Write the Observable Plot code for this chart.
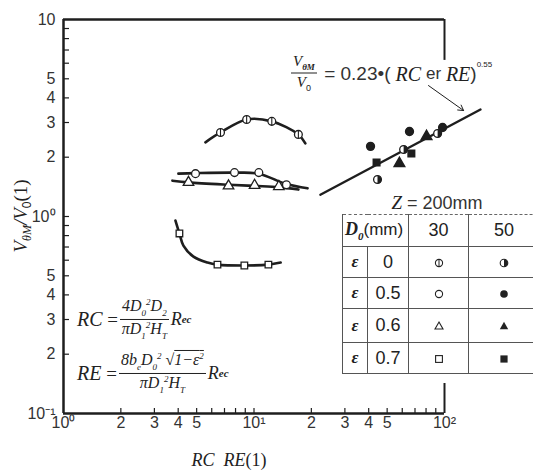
<!DOCTYPE html>
<html><head><meta charset="utf-8">
<script src="https://cdn.jsdelivr.net/npm/d3@7"></script>
<script src="https://cdn.jsdelivr.net/npm/@observablehq/plot@0.6"></script>
<style>
html,body{margin:0;padding:0;background:#fff;overflow:hidden;}
#wrap{position:relative;width:533px;height:474px;overflow:hidden;background:#fff;}
#wrap svg.plot{position:absolute;left:0;top:0;}
.ov{position:absolute;white-space:nowrap;color:#222;line-height:1;}
.it{font-family:"Liberation Serif","DejaVu Serif",serif;font-style:italic;}
.sans{font-family:"Liberation Sans",Arial,sans-serif;}
.frac{display:inline-flex;flex-direction:column;align-items:center;vertical-align:middle;margin:0 2px;}
.frac .num{border-bottom:1px solid #222;padding:0 2px 1px 2px;}
.frac .den{padding-top:1px;}
.row{display:flex;align-items:center;}
table.leg{position:absolute;left:342px;top:214px;width:236px;border-collapse:collapse;table-layout:fixed;color:#222;
  font-family:"Liberation Sans",Arial,sans-serif;font-size:18px;}
table.leg td{border:1px solid #555;text-align:center;padding:0;}
table.leg tr td{border-top:1px dashed #666;}
</style>
</head><body>
<div id="wrap"></div>
<script>
// ---- axis ticks ----
const xTickVals = [1, 2, 3, 4, 5, 7, 10, 20, 30, 40, 50, 70, 100];
const xTickLabels = ["10⁰", "2", "3", "4", "5", "7", "10¹", "2", "3", "4", "5", "7", "10²"];
const yTickVals = [0.1, 0.2, 0.3, 0.4, 0.5, 0.7, 1, 2, 3, 4, 5, 7, 10];
const yTickLabels = ["10⁻¹", "2", "3", "4", "5", "7", "10⁰", "2", "3", "4", "5", "7", "10"];
const xMinor = [2, 3, 4, 5, 6, 7, 8, 9, 10, 20, 30, 40, 50, 60, 70, 80, 90];
const yMinor = [0.2, 0.3, 0.4, 0.5, 0.6, 0.7, 0.8, 0.9, 1, 2, 3, 4, 5, 6, 7, 8, 9];

// ---- D0 = 30 mm series (open markers) and their hand-drawn curves ----
const e0_30_x = [6.67, 9.15, 12.4, 17.1];
const e0_30_y = [2.67, 3.11, 3.04, 2.61];
const e0_curve_x = [5.56, 6.67, 9.15, 12.4, 17.1, 18.6];
const e0_curve_y = [2.38, 2.67, 3.11, 3.04, 2.61, 2.35];

const e05_30_x = [4.93, 7.90, 10.6, 14.8];
const e05_30_y = [1.65, 1.67, 1.67, 1.45];
const e05_curve_x = [4.01, 4.93, 7.90, 10.6, 14.8, 19.1];
const e05_curve_y = [1.65, 1.66, 1.67, 1.65, 1.46, 1.39];

const e06_30_x = [4.53, 7.35, 10.07, 13.5];
const e06_30_y = [1.49, 1.43, 1.44, 1.42];
const e06_curve_x = [3.73, 4.53, 7.35, 10.07, 13.5, 17.1];
const e06_curve_y = [1.52, 1.49, 1.45, 1.43, 1.41, 1.37];

const e07_30_x = [4.06, 6.43, 8.9, 11.9];
const e07_30_y = [0.82, 0.57, 0.564, 0.57];
const e07_curve_x = [3.87, 4.06, 4.26, 4.81, 5.70, 6.43, 8.9, 11.9, 13.8];
const e07_curve_y = [0.954, 0.82, 0.712, 0.626, 0.584, 0.57, 0.564, 0.57, 0.584];

// ---- D0 = 50 mm series (filled markers) ----
const e0_50_x = [44.5, 61, 92];
const e0_50_y = [1.54, 2.19, 2.64];
const e05_50_x = [40.9, 65.5, 97.7];
const e05_50_y = [2.27, 2.70, 2.83];
const e06_50_x = [58, 80.5];
const e06_50_y = [1.86, 2.55];
const e07_50_x = [44, 67];
const e07_50_y = [1.88, 2.09];

const fit_x = [22.3, 154.5];
const fit_y = [1.29, 3.49];
const arrowFrom = [82.4, 4.62];
const arrowTo = [126, 3.45];

// frame pieces
const rightTop = [10, 6.2];
const rightBottom = [0.1, 0.142];

const pts = (xs, ys) => xs.map((x, i) => ({x, y: ys[i]}));

const barSym = {draw(ctx, size) {const r = Math.sqrt(size / Math.PI); ctx.moveTo(0, -r); ctx.lineTo(0, r);}};
const halfSym = {draw(ctx, size) {const r = Math.sqrt(size / Math.PI); ctx.moveTo(0, -r); ctx.arc(0, 0, r, -Math.PI / 2, Math.PI / 2); ctx.closePath();}};

const ink = "#1e1e1e";
const curveOpts = {x: "x", y: "y", curve: "catmull-rom", stroke: ink, strokeWidth: 2.6};
const R = 3.9;

const chart = Plot.plot({
  width: 533, height: 474,
  marginLeft: 63, marginRight: 89, marginTop: 19, marginBottom: 61,
  style: {fontFamily: "'Liberation Sans', Arial, sans-serif", fontSize: "16px", color: "#333", background: "transparent", overflow: "visible"},
  x: {type: "log", domain: [1, 100]},
  y: {type: "log", domain: [0.1, 10]},
  marks: [
    Plot.tickX(xMinor, {x: d => d, insetTop: 389, stroke: ink, strokeWidth: 1.2}),
    Plot.tickY(yMinor, {y: d => d, insetRight: 375, stroke: ink, strokeWidth: 1.2}),
    Plot.axisX({ticks: xTickVals, tickFormat: d => xTickLabels[xTickVals.indexOf(d)], tickSize: 0, tickPadding: 3, fill: "#333", fontSize: 16, label: null}),
    Plot.axisY({ticks: yTickVals, tickFormat: d => yTickLabels[yTickVals.indexOf(d)], tickSize: 0, tickPadding: 8, fill: "#333", fontSize: 16, label: null}),
    Plot.ruleY([10], {stroke: ink, strokeWidth: 2.5}),
    Plot.ruleY([0.1], {stroke: ink, strokeWidth: 2.5}),
    Plot.ruleX([1], {stroke: ink, strokeWidth: 2.5}),
    Plot.ruleX([100], {y1: rightTop[0], y2: rightTop[1], stroke: ink, strokeWidth: 2}),
    Plot.ruleX([100], {y1: rightBottom[0], y2: rightBottom[1], stroke: ink, strokeWidth: 2}),
    Plot.line(pts(e0_curve_x, e0_curve_y), curveOpts),
    Plot.line(pts(e05_curve_x, e05_curve_y), curveOpts),
    Plot.line(pts(e06_curve_x, e06_curve_y), curveOpts),
    Plot.line(pts(e07_curve_x, e07_curve_y), curveOpts),
    Plot.line(pts(fit_x, fit_y), {x: "x", y: "y", stroke: ink, strokeWidth: 2.4}),
    Plot.arrow([0], {x1: () => arrowFrom[0], y1: () => arrowFrom[1], x2: () => arrowTo[0], y2: () => arrowTo[1], stroke: ink, strokeWidth: 1, headLength: 9}),
    // D0 = 30 open markers
    Plot.dot(pts(e0_30_x, e0_30_y), {x: "x", y: "y", r: R, symbol: "circle", fill: "white", stroke: ink, strokeWidth: 1.3}),
    Plot.dot(pts(e0_30_x, e0_30_y), {x: "x", y: "y", r: R, symbol: barSym, fill: "none", stroke: ink, strokeWidth: 1.1}),
    Plot.dot(pts(e05_30_x, e05_30_y), {x: "x", y: "y", r: R, symbol: "circle", fill: "white", stroke: ink, strokeWidth: 1.3}),
    Plot.dot(pts(e06_30_x, e06_30_y), {x: "x", y: "y", r: R, symbol: "triangle", fill: "white", stroke: ink, strokeWidth: 1.3}),
    Plot.dot(pts(e07_30_x, e07_30_y), {x: "x", y: "y", r: R * 0.95, symbol: "square", fill: "white", stroke: ink, strokeWidth: 1.3}),
    // D0 = 50 filled markers
    Plot.dot(pts(e0_50_x, e0_50_y), {x: "x", y: "y", r: R, symbol: "circle", fill: "white", stroke: ink, strokeWidth: 1.3}),
    Plot.dot(pts(e0_50_x, e0_50_y), {x: "x", y: "y", r: R, symbol: halfSym, fill: ink, stroke: "none"}),
    Plot.dot(pts(e05_50_x, e05_50_y), {x: "x", y: "y", r: R, symbol: "circle", fill: ink, stroke: ink}),
    Plot.dot(pts(e06_50_x, e06_50_y), {x: "x", y: "y", r: R, symbol: "triangle", fill: ink, stroke: ink}),
    Plot.dot(pts(e07_50_x, e07_50_y), {x: "x", y: "y", r: R * 0.95, symbol: "square", fill: ink, stroke: ink})
  ]
});
chart.classList.add("plot");
const wrap = document.getElementById("wrap");
wrap.appendChild(chart);

function ov(html, left, top, extra = "") {
  const d = document.createElement("div");
  d.className = "ov";
  d.style.left = left + "px";
  d.style.top = top + "px";
  d.style.cssText += extra;
  d.innerHTML = html;
  wrap.appendChild(d);
  return d;
}

// y-axis title (rotated)
ov('<span class="it">V</span><sub class="it" style="font-size:12px">θM</sub><span class="it">/V</span><sub class="sans" style="font-size:12px">0</sub><span style="font-family:\'Liberation Serif\',serif">(1)</span>',
   22, 216, "font-size:19px;transform:translate(-50%,-50%) rotate(-90deg);");
// x-axis title
ov('<span class="it">RC</span>&nbsp;&nbsp;<span class="it">RE</span><span style="font-family:\'Liberation Serif\',serif">(1)</span>',
   229, 460, "font-size:18px;transform:translate(-50%,-50%);");

// correlation formula
ov('<div class="row"><span class="frac" style="font-size:15px"><span class="num"><span class="it">V</span><sub class="it" style="font-size:9px;font-weight:bold">θM</sub></span><span class="den"><span class="it">V</span><sub class="sans" style="font-size:9px">0</sub></span></span>' +
   '<span class="sans" style="font-size:19px;color:#333">&nbsp;= 0.23•(</span><span class="it" style="font-size:20px">&nbsp;RC&nbsp;</span><span class="sans" style="font-size:17px;color:#333">er&nbsp;</span><span class="it" style="font-size:20px">RE</span><span class="sans" style="font-size:19px;color:#333">)</span><sup class="sans" style="font-size:8px;position:relative;top:-9px">0.55</sup></div>',
   289, 73, "transform:translateY(-50%);");

// RC formula
ov('<div class="row"><span class="it" style="font-size:20px">RC</span><span style="font-size:19px">&nbsp;=</span>' +
   '<span class="frac it" style="font-size:16px"><span class="num">4<i>D</i><sub style="font-size:9px">0</sub><sup style="font-size:9px">2</sup><i>D</i><sub style="font-size:9px">2</sub></span><span class="den">π<i>D</i><sub style="font-size:9px">1</sub><sup style="font-size:9px">2</sup><i>H</i><sub style="font-size:9px">T</sub></span></span>' +
   '<span class="it" style="font-size:18px">R</span><sub class="it" style="font-size:11px;font-weight:bold">ec</sub></div>',
   77, 319, "transform:translateY(-50%);");
// RE formula
ov('<div class="row"><span class="it" style="font-size:20px">RE</span><span style="font-size:19px">&nbsp;=</span>' +
   '<span class="frac it" style="font-size:16px"><span class="num">8<i>b</i><sub style="font-size:9px">e</sub><i>D</i><sub style="font-size:9px">0</sub><sup style="font-size:9px">2</sup>&nbsp;√<span style="text-decoration:overline">1−ε<sup style="font-size:9px">2</sup></span></span><span class="den">π<i>D</i><sub style="font-size:9px">1</sub><sup style="font-size:9px">2</sup><i>H</i><sub style="font-size:9px">T</sub></span></span>' +
   '<span class="it" style="font-size:18px">R</span><sub class="it" style="font-size:11px;font-weight:bold">ec</sub></div>',
   77, 373, "transform:translateY(-50%);");

// legend table
const legEps = ["0", "0.5", "0.6", "0.7"];
const legD0 = ["30", "50"];
const s = (inner) => `<svg width="12" height="12" viewBox="-6 -6 12 12" style="vertical-align:middle">${inner}</svg>`;
const legSym30 = [
  s('<circle r="3.6" fill="white" stroke="#222" stroke-width="1.1"/><line x1="0" y1="-3.6" x2="0" y2="3.6" stroke="#222" stroke-width="1"/>'),
  s('<circle r="3.6" fill="white" stroke="#222" stroke-width="1.1"/>'),
  s('<path d="M0,-4L4,3H-4Z" fill="white" stroke="#222" stroke-width="1.1"/>'),
  s('<rect x="-3.4" y="-3.4" width="6.8" height="6.8" fill="white" stroke="#222" stroke-width="1.1"/>')
];
const legSym50 = [
  s('<circle r="3.8" fill="white" stroke="#222" stroke-width="1.1"/><path d="M0,-3.8A3.8,3.8 0 0 1 0,3.8Z" fill="#222"/>'),
  s('<circle r="3.8" fill="#222"/>'),
  s('<path d="M0,-4.2L4.2,3.2H-4.2Z" fill="#222"/>'),
  s('<rect x="-3.6" y="-3.6" width="7.2" height="7.2" fill="#222"/>')
];
ov('<span class="it" style="font-size:19px">Z</span><span class="sans" style="font-size:18px;color:#333"> = 200mm</span>', 437, 202, "transform:translate(-50%,-50%);");

const heights = [31, 31, 34, 31];
let html = '<table class="leg"><colgroup><col style="width:25px"><col style="width:41px"><col style="width:60px"><col style="width:110px"></colgroup>';
html += `<tr style="height:32px"><td colspan="2" style="text-align:left;padding-left:2px;white-space:nowrap"><span class="it" style="font-weight:bold;font-size:18px">D</span><sub class="it" style="font-size:11px;font-weight:bold">0</sub><span style="font-size:17px">(mm)</span></td><td>${legD0[0]}</td><td style="text-align:left;padding-left:25px">${legD0[1]}</td></tr>`;
legEps.forEach((e, i) => {
  html += `<tr style="height:${heights[i]}px"><td class="it" style="font-weight:bold;font-size:17px">ε</td><td>${e}</td><td>${legSym30[i]}</td><td style="text-align:left;padding-left:29px">${legSym50[i]}</td></tr>`;
});
html += '</table>';
const t = document.createElement("div");
t.innerHTML = html;
wrap.appendChild(t.firstChild);
</script>
</body></html>
